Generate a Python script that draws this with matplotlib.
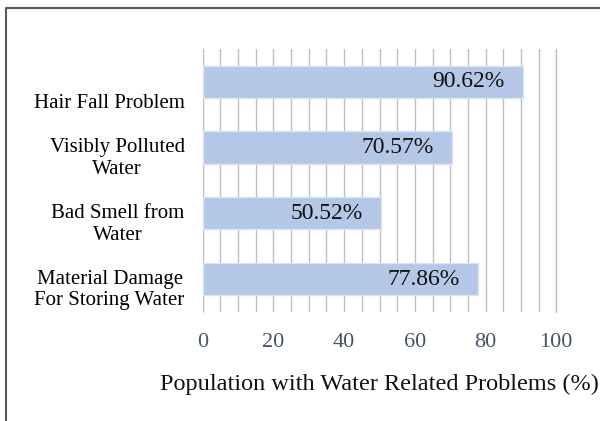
import matplotlib.pyplot as plt
import matplotlib.transforms as mtransforms
from matplotlib.lines import Line2D

# bottom-to-top order (matplotlib puts the first category at the bottom)
problems = ["Material Damage\nFor Storing Water", "Bad Smell from\nWater",
            "Visibly Polluted\nWater", "Hair Fall Problem"]
percent = [77.86, 50.52, 70.57, 90.62]
xticks = [0, 20, 40, 60, 80, 100]

plt.rcParams['font.family'] = ['Liberation Serif', 'DejaVu Serif']

fig = plt.figure(figsize=(6, 4.21), dpi=100)
ax = fig.add_axes([0.338, 0.259, 0.589, 0.625])

ypos = list(range(len(problems)))
ax.barh(ypos, percent, height=0.49, color='#B4C7E7', edgecolor='#DAE3F3',
        linewidth=1, zorder=3)

# value labels inside the end of each bar
for y, v in zip(ypos, percent):
    ax.annotate(f"{v:.2f}%", xy=(v, y), xytext=(-13, 0), textcoords='offset points',
                ha='right', va='center', fontsize=17, color='#111111', zorder=4)

ax.set_xlim(0, 100)
ax.set_ylim(-0.5, len(problems) - 0.5)
ax.set_xticks(xticks)
ax.set_xticks(range(0, 101, 5), minor=True)
ax.tick_params(axis='x', which='both', length=0, pad=15, labelsize=16,
               labelcolor='#44546A')
ax.grid(axis='x', which='both', color='#BFBFBF', linewidth=1, zorder=0)
# last gridline sits on the axes edge, draw it unclipped
ax.axvline(xticks[-1], color='#BFBFBF', linewidth=1, zorder=0, clip_on=False)

ax.set_yticks(ypos)
ax.set_yticklabels(problems, fontsize=15, multialignment='center', linespacing=1.2)
ax.tick_params(axis='y', length=0, pad=13)

# nudge category labels down a bit (single-line one more)
for lab in ax.get_yticklabels():
    dy = -19 if '\n' not in lab.get_text() else -7
    lab.set_transform(lab.get_transform() +
                      mtransforms.ScaledTranslation(0, dy / 100, fig.dpi_scale_trans))

for side in ['top', 'right', 'bottom']:
    ax.spines[side].set_visible(False)
ax.spines['left'].set_color('#D9D9D9')
ax.spines['left'].set_zorder(1)

ax.set_xlabel("Population with Water Related Problems (%)", fontsize=17.5,
              labelpad=16, color='#111111')

# chart frame (left and top edges)
fig.add_artist(Line2D([0.01, 0.01, 1.0], [0.0, 0.981, 0.981],
                      transform=fig.transFigure, color='#595959', linewidth=1.5))

fig.savefig('out.png', dpi=100)
